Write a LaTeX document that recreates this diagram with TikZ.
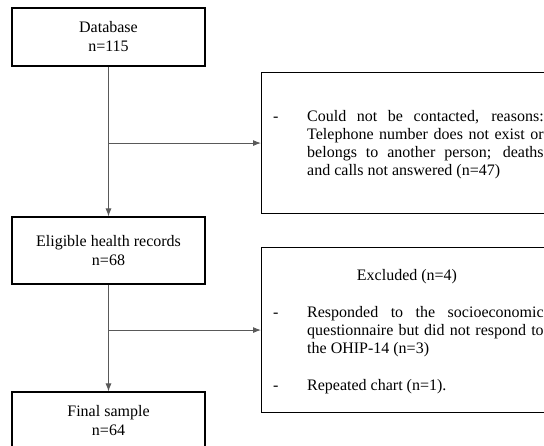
\documentclass[tikz,border=0pt]{standalone}
\usepackage{fontspec}
\setmainfont{Liberation Serif}
\usepackage{tikz}
\tikzset{rounded corners=0}
\usetikzlibrary{arrows.meta}
\tikzset{
  flowbox/.style={draw,line width=1.1pt,minimum width=193pt,align=center,inner sep=0pt,font=\fontsize{16}{19}\selectfont},
  sidebox/.style={draw,line width=1.1pt,minimum width=300pt,anchor=north west,inner sep=0pt},
  sidetext/.style={anchor=base west,inner sep=0pt,text width=236.5pt,align=justify,font=\fontsize{16}{18.3}\selectfont},
  dashtext/.style={anchor=base west,inner sep=0pt,font=\fontsize{16}{18.3}\selectfont},
  flow/.style={draw=black!65,line width=0.9pt}
}

\begin{document}
\begin{tikzpicture}[>={Latex[length=8pt,width=6pt]},x=1pt,y=-1pt]
	\useasboundingbox (0,0) rectangle (544,445);
	\node[flowbox,minimum height=58pt] (db) at (108.5,37) {Database\\n=115};
	\node[flowbox,minimum height=67pt] (elig) at (108.5,250.5) {Eligible health records\\n=68};
	\node[flowbox,minimum height=58pt] (final) at (108.5,421) {Final sample\\n=64};
	\node[sidebox,minimum height=141pt] (lost) at (261,72) {};
	\node[sidebox,minimum height=165pt] (excl) at (261,247) {};
	% reasons for loss
	\node[dashtext] (lostdash) at (273,121) {-};
	\node[sidetext] (losttext) at (307,121) {Could not be contacted, reasons:\linebreak
	Telephone number does not exist or\linebreak belongs to another person; deaths\linebreak
	and calls not answered (n=47)};
	% exclusions
	\node[dashtext,anchor=base] (excltitle) at (407,280) {Excluded (n=4)};
	\node[dashtext] (excldasha) at (273,317) {-};
	\node[sidetext] (excltexta) at (307,317) {Responded to the socioeconomic\linebreak
	questionnaire but did not respond to\linebreak the OHIP-14 (n=3)};
	\node[dashtext] (excldashb) at (273,390) {-};
	\node[dashtext] (excltextb) at (307,390) {Repeated chart (n=1).};
	% connectors
	\coordinate (splitlost) at (db.south |- lost.west);
	\coordinate (splitexcl) at (elig.south |- excl.west);
	\draw[flow,->] (db.south)--(elig.north);
	\draw[flow,->] (splitlost)--(lost.west);
	\draw[flow,->] (elig.south)--(final.north);
	\draw[flow,->] (splitexcl)--(excl.west);
\end{tikzpicture}
\end{document}
